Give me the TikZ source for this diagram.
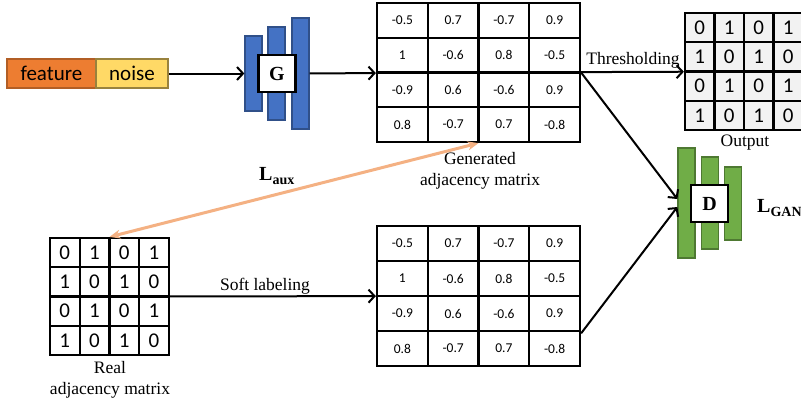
\documentclass[tikz,border=0pt]{standalone}
\usepackage{fontspec}
\setmainfont{Liberation Serif}
\newfontfamily\calfont{Carlito}
\usetikzlibrary{arrows.meta}

\definecolor{featorange}{HTML}{ED7D31}
\definecolor{noiseyellow}{HTML}{FFD966}
\definecolor{barblue}{HTML}{4472C4}
\definecolor{bargreen}{HTML}{70AD47}
\definecolor{auxorange}{HTML}{F4B183}
\definecolor{cellgray}{HTML}{F2F2F2}

\begin{document}
\begin{tikzpicture}
  [x=1pt, y=-1pt,
   inbox/.style={draw, line width=1.5pt, inner sep=0, minimum width=#1, minimum height=29pt,
     font=\calfont\fontsize{21}{23}\selectfont},
   bar/.style={draw=#1!70!black, fill=#1, line width=1.3pt, inner sep=0, minimum width=17pt},
   netbox/.style={draw, fill=white, line width=2.2pt, inner sep=0, minimum size=37pt,
     font=\bfseries\fontsize{20}{22}\selectfont},
   numcell/.style={draw, line width=2.1pt, inner sep=0, minimum width=50.75pt, minimum height=34.75pt,
     font=\calfont\fontsize{13.5}{15}\selectfont},
   bincell/.style={draw, line width=2.1pt, inner sep=0, minimum width=29.6pt, minimum height=29.3pt,
     font=\calfont\fontsize{21}{23}\selectfont},
   matframe/.style={draw, line width=2.2pt, inner sep=0},
   lbl/.style={inner sep=0, align=center, font=\fontsize{17.5}{21}\selectfont},
   loss/.style={inner sep=0, anchor=west, font=\bfseries\fontsize{20}{22}\selectfont},
   flow/.style={line width=2pt, -{Straight Barb[length=6pt,width=13pt]}},
   auxflow/.style={draw=auxorange, line width=3pt,
     {Stealth[length=11pt,width=9pt]}-{Stealth[length=11pt,width=9pt]}}]

  \useasboundingbox (0,0) rectangle (801,402);

  % input
  \node[inbox=89pt, draw=featorange!75!black, fill=featorange] (feat) at (51.5,73.5) {feature};
  \node[inbox=72pt, draw=noiseyellow!60!black, fill=noiseyellow] (noise) at (132,73.5) {noise};

  % generator
  \node[bar=barblue, minimum height=75pt] (g1) at (253.5,73.5) {};
  \node[bar=barblue, minimum height=93pt] (g2) at (276.5,73.5) {};
  \node[bar=barblue, minimum height=111pt] (g3) at (300.5,73.5) {};
  \node[netbox] (gbox) at (277,73.5) {G};

  % generated adjacency matrix
  \foreach \v [count=\k from 0] in {-0.5,0.7,-0.7,0.9,1,-0.6,0.8,-0.5,-0.9,0.6,-0.6,0.9,0.8,-0.7,0.7,-0.8}
    \node[numcell] (gen-\k) at ({402.4+mod(\k,4)*50.75}, {20.4+int(\k/4)*34.75}) {\v};
  \node[matframe, minimum width=203pt, minimum height=139pt] (gen) at (478.5,72.5) {};

  % soft labeled matrix
  \foreach \v [count=\k from 0] in {-0.5,0.7,-0.7,0.9,1,-0.6,0.8,-0.5,-0.9,0.6,-0.6,0.9,0.8,-0.7,0.7,-0.8}
    \node[numcell, minimum height=35pt] (soft-\k) at ({402.4+mod(\k,4)*50.75}, {243.5+int(\k/4)*35}) {\v};
  \node[matframe, minimum width=203pt, minimum height=140pt] (soft) at (478.5,296) {};

  % real adjacency matrix
  \foreach \v [count=\k from 0] in {0,1,0,1,1,0,1,0,0,1,0,1,1,0,1,0}
    \node[bincell] (real-\k) at ({64.8+mod(\k,4)*29.75}, {252.6+int(\k/4)*29.25}) {\v};
  \node[matframe, minimum width=119pt, minimum height=117pt] (real) at (109.5,296.5) {};

  % output matrix
  \foreach \v [count=\k from 0] in {0,1,0,1,1,0,1,0,0,1,0,1,1,0,1,0}
    \node[bincell, fill=cellgray] (out-\k) at ({699.8+mod(\k,4)*29.5}, {27.6+int(\k/4)*29.25}) {\v};
  \node[matframe, minimum width=118pt, minimum height=117pt] (out) at (744,71.5) {};

  % discriminator
  \node[bar=bargreen, minimum height=110pt] (d1) at (686.5,203) {};
  \node[bar=bargreen, minimum height=92pt] (d2) at (710,203) {};
  \node[bar=bargreen, minimum height=73pt] (d3) at (733,203.5) {};
  \node[netbox] (dbox) at (709.5,203.5) {D};

  % labels
  \node[lbl] (thrlbl) at (633,60) {Thresholding};
  \node[lbl] (softlbl) at (265,286) {Soft labeling};
  \node[lbl] (outlbl) at (745,143) {Output};
  \node[lbl] (genlbl) at (480,171) {Generated\\adjacency matrix};
  \node[lbl] (reallbl) at (110,380) {Real\\adjacency matrix};
  \node[loss] (laux) at (259,176) {L\textsubscript{aux}};
  \node[loss] (lgan) at (757,208) {L\textsubscript{GAN}};

  % connectors
  \draw[flow] (noise) -- (g1);
  \draw[flow] (g3) -- (gen);
  \draw[flow] (gen) -- (out);
  \draw[flow] (real) -- (soft);
  \draw[flow] (gen.east) -- ([yshift=4pt]d1.west);
  \draw[flow] (soft.-20) -- ([yshift=-4pt]d1.west);
  \draw[auxflow] (real.north) -- (gen.south);
\end{tikzpicture}
\end{document}
